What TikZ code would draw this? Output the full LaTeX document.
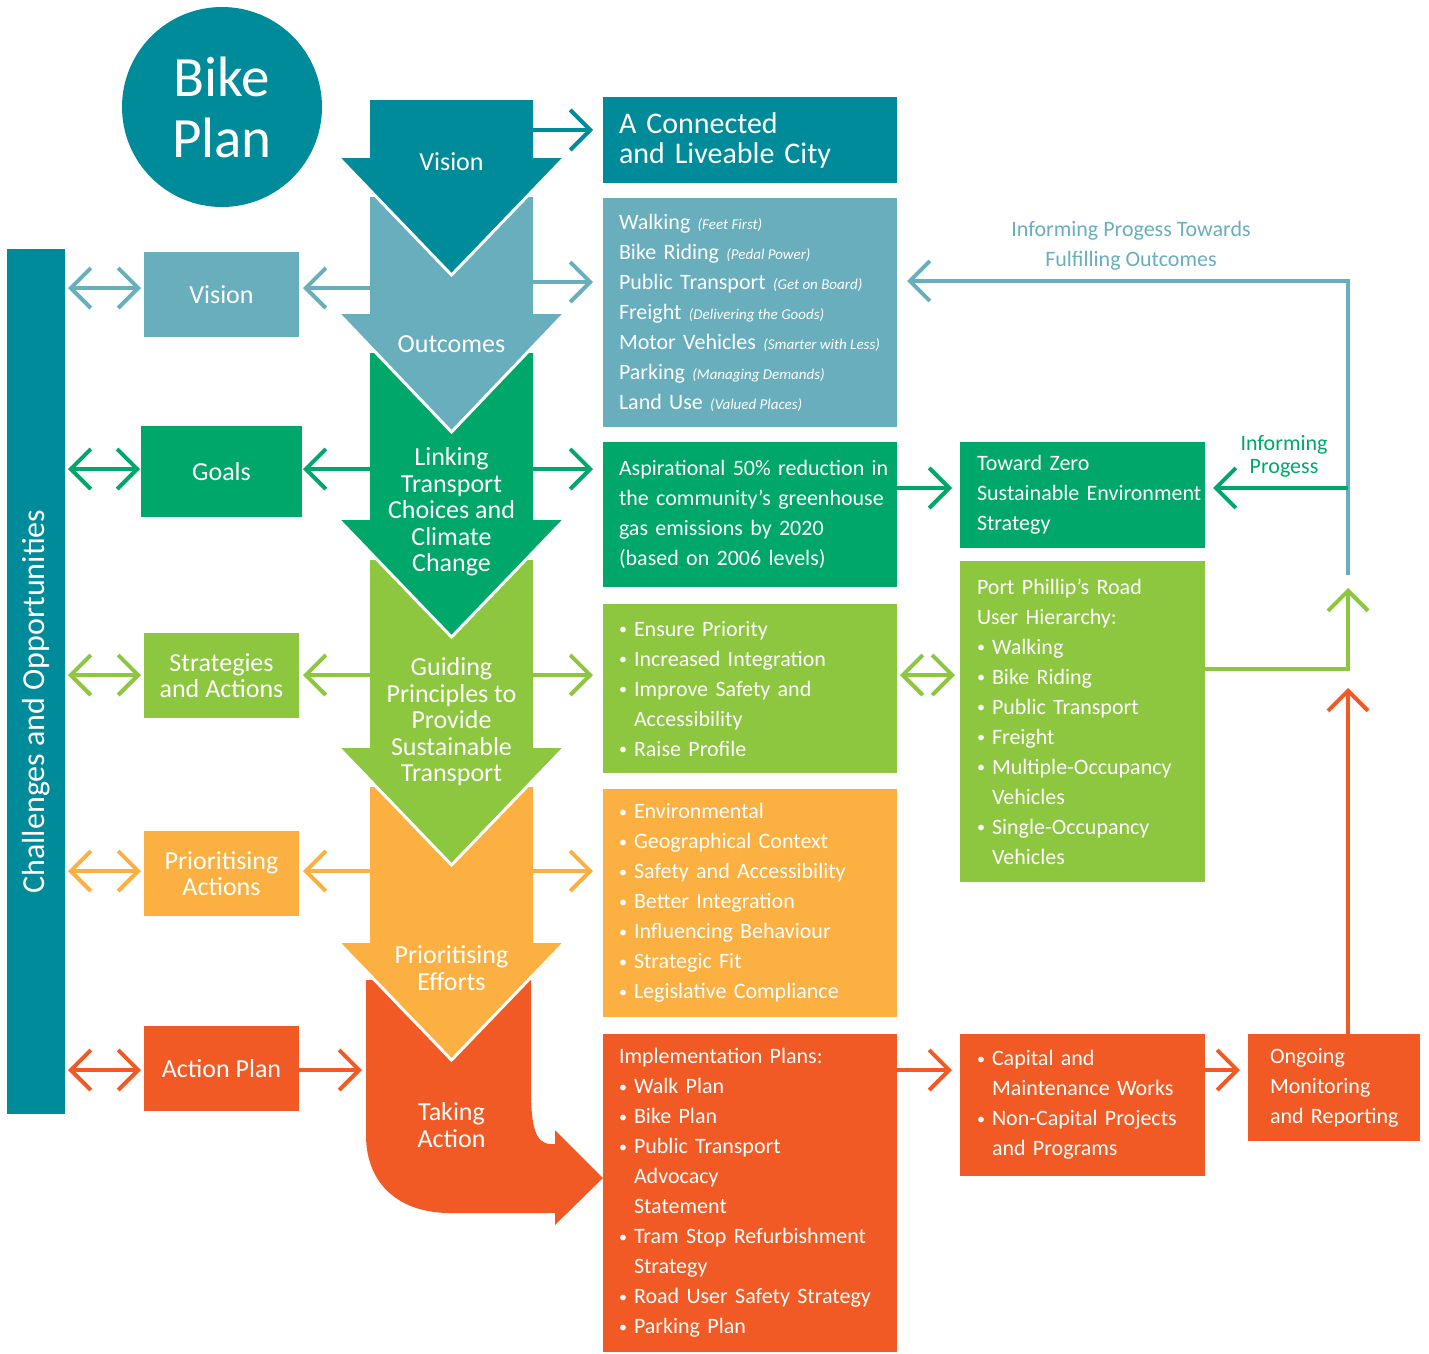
\documentclass[tikz,border=0pt]{standalone}
\usepackage{fontspec}
\usepackage{graphicx}
\setmainfont{Carlito}
\usetikzlibrary{arrows.meta}

\definecolor{tealD}{HTML}{008B9A}
\definecolor{tealL}{HTML}{68AEBC}
\definecolor{greenD}{HTML}{00A76A}
\definecolor{lime}{HTML}{8DC63F}
\definecolor{amber}{HTML}{FBB041}
\definecolor{orng}{HTML}{F15A25}

\newcommand\bul{\makebox[15pt][l]{\raisebox{1.5pt}{\fontsize{16}{16}\selectfont\textbullet}}}
\newcommand\ind{\hspace*{15pt}}
\newcommand\sub[1]{{\fontsize{15}{30}\selectfont\itshape\spaceskip=0pt\relax #1}}
% top, wing, tip, colour of one downward arrow
\newcommand\flowdown[4]{%
  \fill[#4] (370,#1) -- (533,#1) -- (533,#2) -- (564,#2) -- (451.5,#3) -- (339,#2) -- (370,#2) -- cycle;
  \draw[white, line width=3pt] (564,#2) -- (451.5,#3) -- (339,#2);}

\tikzset{
  chev/.style={-{Straight Barb[length=20pt,width=40pt]}, line width=4pt},
  dchev/.style={{Straight Barb[length=20pt,width=40pt]}-{Straight Barb[length=20pt,width=40pt]}, line width=4pt},
  panel/.style={anchor=north west, inner xsep=0pt, inner ysep=0pt, outer sep=0pt, align=left, text=white,
    font=\fontsize{22}{30}\selectfont, execute at begin node={\leftskip=#1}},
  panel/.default=16pt,
  side/.style={minimum width=155pt, minimum height=85pt, inner sep=0pt, outer sep=0pt, align=center, text=white,
    font=\fontsize{26}{26.5}\selectfont},
  arrtext/.style={text=white, align=center, font=\fontsize{26}{26.5}\selectfont},
}

\begin{document}
\begin{tikzpicture}[x=1pt, y=-1pt]
  \useasboundingbox (0,0) rectangle (1429,1353);

  % central arrows, bottom first
  \fill[orng] (366,980) -- (366,1135) .. controls (366,1185) and (400,1213) .. (450,1213) -- (555,1213)
    -- (555,1225) -- (603,1178) -- (555,1130) -- (555,1144) -- (551,1144)
    .. controls (535,1144) and (531,1125) .. (531,1090) -- (531,980) -- cycle;
  \flowdown{787}{943}{1060}{amber}
  \flowdown{560}{748}{865}{lime}
  \flowdown{353}{520}{637}{greenD}
  \flowdown{197}{314}{432}{tealL}
  \flowdown{100}{158}{275}{tealD}

  \node[arrtext] (tvis) at (451.5,162) {Vision};
  \node[arrtext] (tout) at (451.5,344) {Outcomes};
  \node[arrtext] (tlink) at (451.5,512) {Linking\\Transport\\Choices and\\Climate\\Change};
  \node[arrtext] (tguid) at (451.5,722) {Guiding\\Principles to\\Provide\\Sustainable\\Transport};
  \node[arrtext] (tprio) at (451.5,968) {Prioritising\\Efforts};
  \node[arrtext] (ttake) at (451.5,1125) {Taking\\Action};

  % left side
  \node[circle, fill=tealD, minimum size=200pt, inner sep=0pt, text=white, align=center,
    font=\fontsize{57}{61}\selectfont] (bp) at (222,107) {Bike\\Plan};
  \node[fill=tealD, minimum width=58pt, minimum height=865pt, inner sep=0pt, outer sep=0pt, text=white,
    font=\fontsize{32}{32}\selectfont] (bar) at (36,681.5)
    {\rotatebox{90}{Challenges and Opportunities\hspace*{40pt}}};
  \node[side, fill=tealL] (vis2) at (221.5,294.5) {Vision};
  \node[side, fill=greenD, minimum width=161pt, minimum height=91pt] (goal) at (221.5,471.5) {Goals};
  \node[side, fill=lime] (strat) at (221.5,675.5) {Strategies\\and Actions};
  \node[side, fill=amber] (prio) at (221.5,873.5) {Prioritising\\Actions};
  \node[side, fill=orng] (act) at (221.5,1068.5) {Action Plan};

  % right side
  \node[panel, fill=tealD, text width=294pt, minimum height=86pt, font=\fontsize{30}{30}\selectfont] (conn)
    at (603,97) {A Connected\\and Liveable City};
  \node[panel, fill=tealL, text width=294pt, minimum height=229pt] (outl) at (603,198)
    {Walking \sub{(Feet First)}\\
     Bike Riding \sub{(Pedal Power)}\\
     Public Transport \sub{(Get on Board)}\\
     Freight \sub{(Delivering the Goods)}\\
     Motor Vehicles \sub{(Smarter with Less)}\\
     Parking \sub{(Managing Demands)}\\
     Land Use \sub{(Valued Places)}};
  \node[panel, fill=greenD, text width=294pt, minimum height=145pt] (asp) at (603,442)
    {Aspirational 50\% reduction in\\the community's greenhouse\\gas emissions by 2020\\(based on 2006 levels)};
  \node[panel, fill=lime, text width=294pt, minimum height=169pt] (ens) at (603,604)
    {\bul Ensure Priority\\\bul Increased Integration\\\bul Improve Safety and\\\ind Accessibility\\\bul Raise Profile};
  \node[panel, fill=amber, text width=294pt, minimum height=228pt] (env) at (603,789)
    {\bul Environmental\\\bul Geographical Context\\\bul Safety and Accessibility\\\bul Better Integration\\
     \bul Influencing Behaviour\\\bul Strategic Fit\\\bul Legislative Compliance};
  \node[panel, fill=orng, text width=294pt, minimum height=318pt] (impl) at (603,1034)
    {Implementation Plans:\\\bul Walk Plan\\\bul Bike Plan\\\bul Public Transport\\\ind Advocacy\\\ind Statement\\
     \bul Tram Stop Refurbishment\\\ind Strategy\\\bul Road User Safety Strategy\\\bul Parking Plan};
  \node[panel=17pt, fill=greenD, text width=245pt, minimum height=106pt] (tz) at (960,442)
    {Toward Zero\\Sustainable Environment\\Strategy};
  \node[panel=17pt, fill=lime, text width=245pt, minimum height=321pt] (pp) at (960,561)
    {Port Phillip's Road\\User Hierarchy:\\\bul Walking\\\bul Bike Riding\\\bul Public Transport\\\bul Freight\\
     \bul Multiple-Occupancy\\\ind Vehicles\\\bul Single-Occupancy\\\ind Vehicles};
  \node[panel=17pt, fill=orng, text width=245pt, minimum height=142pt] (cap) at (960,1034)
    {\bul Capital and\\\ind Maintenance Works\\\bul Non-Capital Projects\\\ind and Programs};
  \node[panel=22pt, fill=orng, text width=172pt, minimum height=107pt] (ong) at (1248,1034)
    {Ongoing\\Monitoring\\and Reporting};

  \node[text=tealL, align=center, font=\fontsize{22}{30}\selectfont] (inf1) at (1131,246)
    {Informing Progess Towards\\Fulfilling Outcomes};
  \node[text=greenD, align=center, font=\fontsize{22}{23}\selectfont] (inf2) at (1284,456) {Informing\\Progess};

  % connector rows
  \coordinate (s0r) at (533,130);
  \coordinate (s1r) at (533,282);
  \coordinate (s1l) at (370,288);
  \coordinate (s2l) at (370,469);
  \coordinate (s2r) at (533,469);
  \coordinate (s3l) at (370,675);
  \coordinate (s3r) at (533,675);
  \coordinate (s4l) at (370,871);
  \coordinate (s4r) at (533,871);
  \coordinate (r5) at (299,1070);
  \coordinate (tk) at (366,1070);

  \draw[chev, tealD, shorten >=10pt] (s0r) -- (s0r -| conn.west);
  \draw[chev, tealL, shorten >=10pt] (s1r) -- (s1r -| outl.west);
  \draw[chev, tealL, shorten >=4pt] (s1l) -- (s1l -| vis2.east);
  \draw[chev, greenD, shorten >=10pt] (s2r) -- (s2r -| asp.west);
  \draw[chev, greenD, shorten >=1pt] (s2l) -- (s2l -| goal.east);
  \draw[chev, lime, shorten >=10pt] (s3r) -- (s3r -| ens.west);
  \draw[chev, lime, shorten >=4pt] (s3l) -- (s3l -| strat.east);
  \draw[chev, amber, shorten >=10pt] (s4r) -- (s4r -| env.west);
  \draw[chev, amber, shorten >=4pt] (s4l) -- (s4l -| prio.east);
  \draw[chev, orng, shorten >=4pt] (r5 -| act.east) -- (tk);

  \draw[dchev, tealL, shorten <=3pt, shorten >=3pt] (s1l -| bar.east) -- (s1l -| vis2.west);
  \draw[dchev, greenD, shorten <=3pt, shorten >=1pt] (s2l -| bar.east) -- (s2l -| goal.west);
  \draw[dchev, lime, shorten <=3pt, shorten >=3pt] (s3l -| bar.east) -- (s3l -| strat.west);
  \draw[dchev, amber, shorten <=3pt, shorten >=3pt] (s4l -| bar.east) -- (s4l -| prio.west);
  \draw[dchev, orng, shorten <=3pt, shorten >=3pt] (r5 -| bar.east) -- (r5 -| act.west);

  % feedback loop
  \coordinate (fbTop) at (1348,281);
  \coordinate (fbT) at (1348,575);
  \coordinate (fbG) at (1348,488);
  \coordinate (fbL) at (1348,588);
  \coordinate (fbM) at (1348,669);
  \coordinate (fbO) at (1348,688);

  \draw[chev, greenD, shorten >=8pt] (fbG -| asp.east) -- (fbG -| tz.west);
  \draw[dchev, lime, shorten <=3pt, shorten >=5pt] (s3r -| ens.east) -- (s3r -| pp.west);
  \draw[chev, orng, shorten >=8pt] (r5 -| impl.east) -- (r5 -| cap.west);
  \draw[chev, orng, shorten >=8pt] (r5 -| cap.east) -- (r5 -| ong.west);

  \draw[chev, orng] (fbO |- ong.north) -- (fbO);
  \draw[chev, lime] (fbM -| pp.east) -- (fbM) -- (fbL);
  \draw[chev, tealL, shorten >=10pt] (fbT) -- (fbTop) -- (fbTop -| outl.east);
  \draw[chev, greenD, shorten >=8pt] (fbG) -- (fbG -| tz.east);
\end{tikzpicture}
\end{document}
